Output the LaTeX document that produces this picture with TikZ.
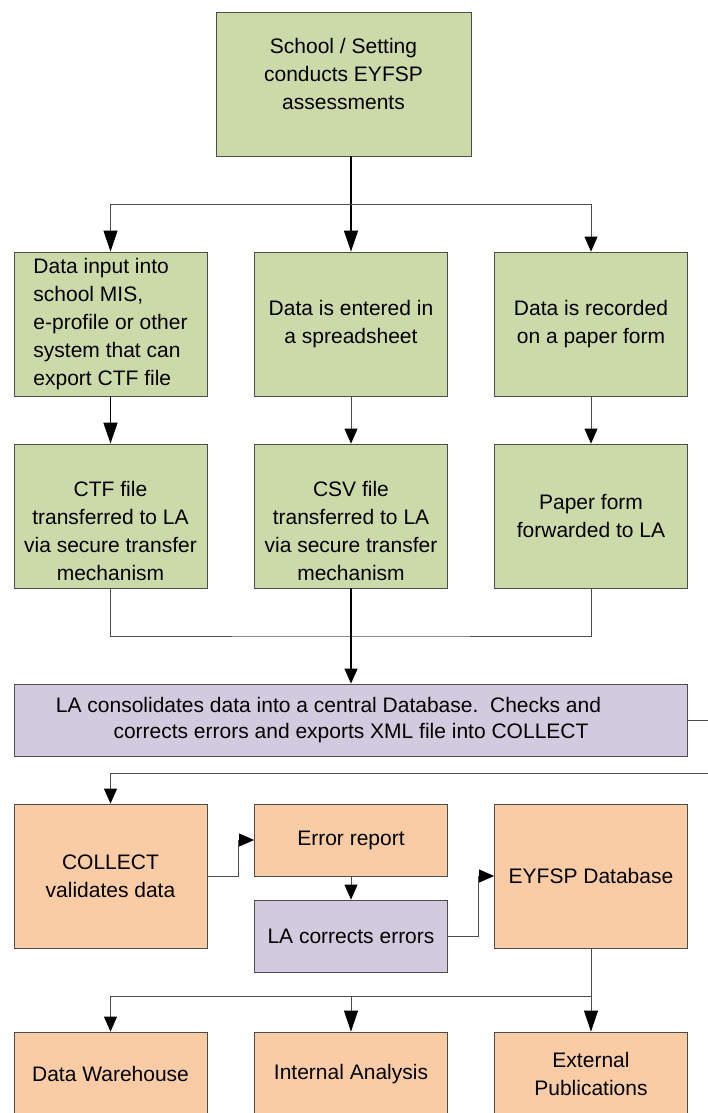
\documentclass[tikz,border=0pt]{standalone}
\usepackage{fontspec}
\setmainfont{Liberation Sans}
\usetikzlibrary{arrows.meta}
\definecolor{leafgreen}{RGB}{204,218,169}
\definecolor{lilac}{RGB}{210,202,222}
\definecolor{peach}{RGB}{249,204,166}
\begin{document}
\begin{tikzpicture}[x=1pt, y=-1pt,
box/.style={draw=black!70, line width=0.8pt, inner sep=0pt, align=center,
  minimum width=193pt, minimum height=144pt, font=\fontsize{21}{28}\selectfont},
gbox/.style={box, fill=leafgreen},
pbox/.style={box, fill=lilac},
obox/.style={box, fill=peach},
wire/.style={draw=black!70, line width=0.8pt},
heavy/.style={draw=black, line width=1.4pt},
big/.style={-{Triangle[length=21pt,width=14pt,black]}},
small/.style={-{Triangle[length=15pt,width=13pt,black]}}]
\useasboundingbox (0,0) rectangle (707,1113);
\node[gbox, minimum width=255pt] (school) at (343.5,84) {School / Setting\\conducts EYFSP\\assessments\\[-8pt]\mbox{}};
\node[gbox, align=left] (mis) at (110.5,324) {Data input into\\school MIS,\\e-profile or other\\system that can\\export CTF file};
\node[gbox] (sheet) at (351,324) {Data is entered in\\a spreadsheet};
\node[gbox] (paper) at (591,324) {Data is recorded\\on a paper form};
\node[gbox] (ctf) at (110.5,516) {\mbox{}\\[17pt]CTF file\\transferred to LA\\via secure transfer\\mechanism};
\node[gbox] (csv) at (351,516) {\mbox{}\\[17pt]CSV file\\transferred to LA\\via secure transfer\\mechanism};
\node[gbox] (form) at (591,516) {Paper form\\forwarded to LA};
\node[pbox, minimum width=673pt, minimum height=72pt, font=\fontsize{21}{26}\selectfont] (la) at (351,720)
  {LA consolidates data into a central Database.\ \ Checks and\hspace*{45pt}\\corrects errors and exports XML file into COLLECT};
\node[obox] (collect) at (110.5,876) {COLLECT\\validates data};
\node[obox, minimum height=72pt] (report) at (351,840) {Error report};
\node[pbox, minimum height=72pt] (fix) at (351,936) {LA corrects errors};
\node[obox] (db) at (591,876) {EYFSP Database};
\node[obox, minimum height=84pt] (warehouse) at (110.5,1074) {Data Warehouse};
\node[obox, minimum height=84pt] (analysis) at (351,1074) {Internal Analysis};
\node[obox, minimum height=84pt] (publ) at (591,1074) {External\\Publications};
\coordinate (fork1) at (351,204);
\coordinate (join) at (351,636);
\coordinate (loop) at (730,773);
\coordinate (fork2) at (591,996);
\draw[heavy, big] (school.south -| sheet) -- (sheet.north);
\draw[wire, big] (fork1) -| (mis.north);
\draw[wire, small] (fork1) -| (paper.north);
\draw[heavy, big] (mis.south) -- (ctf.north);
\draw[wire, small] (sheet.south) -- (csv.north);
\draw[wire, small] (paper.south) -- (form.north);
\draw[wire] (ctf.south) |- (join) -| (form.south);
\draw[heavy, small] (csv.south) -- (la.north);
\draw[wire, small] (la.east) -| (loop) -| (collect.north);
\draw[wire, small] (collect.east) -- ++(30.5,0) |- (report.west);
\draw[wire, small] (report.south) -- (fix.north);
\draw[wire, small] (fix.east) -- ++(30.5,0) |- (db.west);
\draw[wire, big] (db.south) -- (publ.north);
\draw[wire, small] (fork2) -| (warehouse.north);
\draw[wire, big] (fork2) -| (analysis.north);
\end{tikzpicture}
\end{document}
